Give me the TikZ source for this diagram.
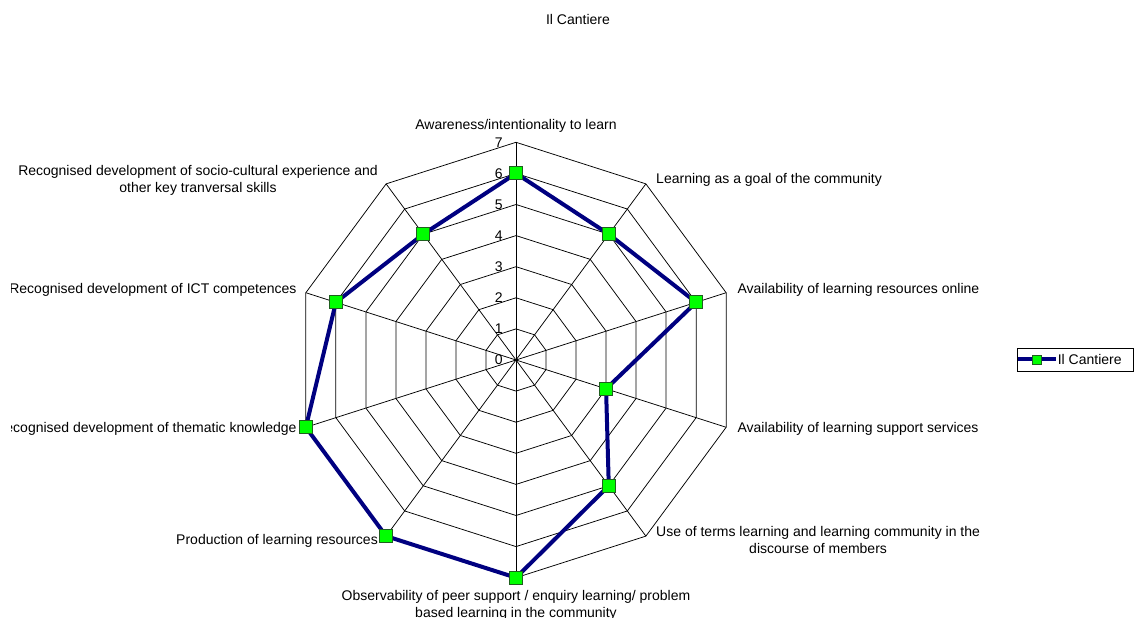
\documentclass[tikz,border=0pt]{standalone}
\usepackage{fontspec}
\setmainfont{Liberation Sans}
\usetikzlibrary{positioning, calc}
\definecolor{seriesnavy}{HTML}{000080}
\definecolor{markergreen}{HTML}{00FF00}
\definecolor{markeredge}{HTML}{1F5F1F}

\begin{document}
\begin{tikzpicture}[x=1pt, y=1pt, font=\fontsize{14}{17}\selectfont,
    gridline/.style={line width=0.75pt, black},
    datapath/.style={line width=4pt, seriesnavy, line join=round},
    sqmark/.style={draw=markeredge, fill=markergreen, line width=0.8pt, minimum size=13pt, inner sep=0pt},
    axistext/.style={inner sep=0pt, align=center}]
  \useasboundingbox (0,0) rectangle (1135,618);

  \node[inner sep=0pt, anchor=base] (title) at (578,593) {Il Cantiere};

  \begin{scope}[shift={(516,258)}, x=1.015pt]
    \coordinate (hub) at (0,0);
    % rings
    \foreach \r in {1,...,7}
      \draw[gridline] (90:{\r*31.1}) \foreach \k in {1,...,9} { -- ({90-36*\k}:{\r*31.1}) } -- cycle;
    % spokes
    \foreach \k in {0,...,9} {
      \coordinate (o\k) at ({90-36*\k}:217.7);
      \draw[gridline] (hub) -- (o\k);
    }
    % scale
    \foreach \v in {0,...,7}
      \node[anchor=east, inner sep=0pt] (tick\v) at (-13,{\v*31.1}) {\v};

    % series
    \foreach \v [count=\k from 0] in {6,5,6,3,5,7,7,7,6,5}
      \coordinate (v\k) at ({90-36*\k}:{\v*31.1});
    \draw[datapath] (v0) -- (v1) -- (v2) -- (v3) -- (v4) -- (v5) -- (v6) -- (v7) -- (v8) -- (v9) -- cycle;
    \foreach \k in {0,...,9}
      \node[sqmark] (pt\k) at (v\k) {};

    % axis labels (chart area cuts them on the left)
    \clip (-497.5,-258) rectangle (600,360);
    \node[axistext, anchor=base] (lab0) at ($(o0)+(0,13)$) {Awareness/intentionality to learn};
    \node[axistext, anchor=base west] (lab1) at ($(o1)+(10,0)$) {Learning as a goal of the community};
    \node[axistext, anchor=base west] (lab2) at ($(o2)+(11,-1)$) {Availability of learning resources online};
    \node[axistext, anchor=base west] (lab3) at ($(o3)+(11,-5)$) {Availability of learning support services};
    \node[axistext, anchor=base west] (lab4) at ($(o4)+(10,-17)$) {Use of terms learning and learning community in the\\discourse of members};
    \node[axistext, anchor=base] (lab5) at ($(o5)+(0,-40)$) {Observability of peer support / enquiry learning/ problem\\based learning in the community};
    \node[axistext, anchor=base east] (lab6) at ($(o6)+(-8,-8)$) {Production of learning resources};
    \node[axistext, anchor=base east] (lab7) at ($(o7)+(-9,-5)$) {Recognised development of thematic knowledge};
    \node[axistext, anchor=base east] (lab8) at ($(o8)+(-9,-1)$) {Recognised development of ICT competences};
    \node[axistext, anchor=base east] (lab9) at ($(o9)+(-8,-9)$) {Recognised development of socio-cultural experience and\\other key tranversal skills};
  \end{scope}

  % legend
  \node[draw, line width=0.75pt, minimum width=116pt, minimum height=23pt, inner sep=0pt] (legend) at (1075,258.5) {};
  \coordinate[right=1pt of legend.west] (keyleft);
  \coordinate[right=38pt of keyleft] (keyright);
  \draw[datapath] (keyleft) -- (keyright);
  \node[sqmark, minimum size=9pt] (keymark) at ($(keyleft)!0.5!(keyright)$) {};
  \node[inner sep=0pt, anchor=west] (keytext) at ($(keyright)+(2,0)$) {Il Cantiere};
\end{tikzpicture}
\end{document}
